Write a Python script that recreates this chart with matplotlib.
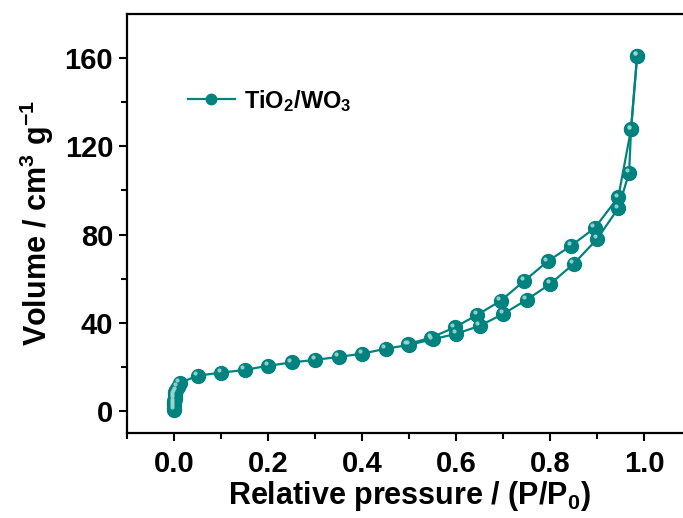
import numpy as np
import matplotlib.pyplot as plt
from matplotlib.transforms import offset_copy

plt.rcParams['font.family'] = 'Liberation Sans'
plt.rcParams['font.weight'] = 'bold'
plt.rcParams['axes.labelweight'] = 'bold'
plt.rcParams['mathtext.fontset'] = 'custom'
plt.rcParams['mathtext.rm'] = 'Liberation Sans:bold'
plt.rcParams['mathtext.default'] = 'rm'

# adsorption branch
ads_p = [0.0001, 0.0002, 0.0003, 0.0005, 0.0007, 0.001, 0.0015, 0.002, 0.003,
         0.005, 0.008, 0.012, 0.05, 0.10, 0.15, 0.20, 0.25, 0.30, 0.35, 0.40,
         0.45, 0.50, 0.55, 0.60, 0.65, 0.70, 0.75, 0.80, 0.85, 0.90, 0.945,
         0.968, 0.972, 0.985]
ads_v = [0.5, 1.5, 2.5, 3.5, 4.5, 5.5, 6.5, 7.5, 8.5, 9.5, 11.0, 12.7, 16.0,
         17.4, 18.6, 20.5, 22.0, 23.2, 24.5, 26.0, 28.2, 30.0, 32.5, 35.0,
         38.6, 44.0, 50.4, 57.6, 66.7, 78.0, 92.0, 108.0, 127.7, 161.0]

# desorption branch
des_p = [0.985, 0.972, 0.945, 0.895, 0.845, 0.795, 0.745, 0.695, 0.645,
         0.597, 0.547, 0.497]
des_v = [161.0, 127.7, 97.0, 83.0, 75.0, 67.9, 59.0, 50.0, 43.6, 37.9, 33.3,
         30.3]

color = '#00837F'

fig = plt.figure(figsize=(6.83, 5.18), dpi=100)
ax = fig.add_axes([0.186, 0.164, 0.826, 0.809])

for p, v, lab in [(ads_p, ads_v, 'TiO$_2$/WO$_3$'), (des_p, des_v, None)]:
    ax.plot(p, v, '-o', color=color, lw=1.6, ms=10, mec=color, mfc=color,
            label=lab, zorder=3)
    hl = offset_copy(ax.transData, fig=fig, x=-1.8, y=1.8, units='points')
    ax.plot(p, v, 'o', color='#9fd6d2', ms=3, mec='none', alpha=0.9,
            transform=hl, zorder=4)

ax.set_xlim(-0.1, 1.1)
ax.set_ylim(-10, 180)
ax.set_xticks([0.0, 0.2, 0.4, 0.6, 0.8, 1.0])
ax.set_xticks(np.arange(-0.1, 1.15, 0.2), minor=True)
ax.set_yticks([0, 40, 80, 120, 160])
ax.set_yticks([20, 60, 100, 140], minor=True)
ax.set_xticklabels(['0.0', '0.2', '0.4', '0.6', '0.8', '1.0'])

ax.tick_params(which='both', direction='out', width=1.5, labelsize=21)
ax.tick_params(which='major', length=6)
ax.tick_params(which='minor', length=4)
ax.tick_params(axis='x', pad=6)
ax.tick_params(axis='y', pad=4)
for s in ax.spines.values():
    s.set_linewidth(1.6)

ax.set_xlabel('Relative pressure / (P/P$_0$)', fontsize=22, labelpad=1)
ax.set_ylabel('Volume / cm$^3$ g$^{-1}$', fontsize=22, labelpad=6)

ax.legend(loc='upper left', bbox_to_anchor=(0.07, 0.875), frameon=False,
          fontsize=17, handlelength=2.0, handletextpad=0.4, markerscale=0.75)

fig.savefig('out.png', dpi=100)
